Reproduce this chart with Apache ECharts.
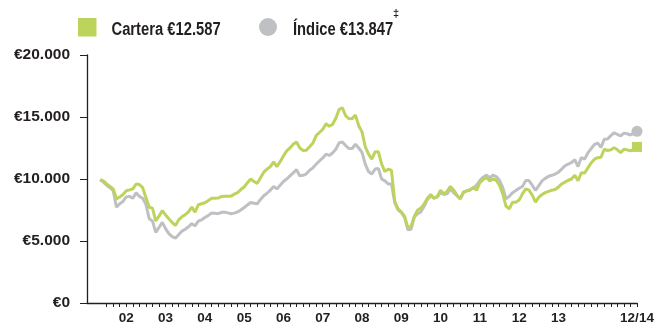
<!DOCTYPE html>
<html>
<head>
<meta charset="utf-8">
<script src="https://cdn.jsdelivr.net/npm/echarts@6/dist/echarts.min.js"></script>
<style>
  html, body { margin: 0; padding: 0; background: #ffffff; }
  #chart { width: 657px; height: 325px; }
</style>
</head>
<body>
<div id="chart"></div>
<script>
// Month-end values of a €10.000 investment, from April 2001 to December 2014.
// x positions are months counted from January 2001 (12 = start of 2002).
const firstMonth = 4;

const carteraValues = [
  9940, 9850, 9600, 9400, 9200, 8400, 8550, 8750, 9050, 9120, 9200, 9600,
  9560, 9300, 8500, 7720, 7650, 6620, 7000, 7450, 7100, 6800, 6500, 6250,
  6700, 6950, 7120, 7350, 7730, 7330, 7920, 8000, 8080, 8250, 8440, 8450,
  8460, 8580, 8610, 8600, 8620, 8780, 8900, 9150, 9350, 9700, 10000, 9800,
  9650, 10100, 10550, 10800, 11000, 11380, 11000, 11400, 11850, 12270, 12500, 12800,
  12990, 12500, 12300, 12320, 12600, 12900, 13500, 13750, 14000, 14450, 14250, 14400,
  14900, 15600, 15750, 15100, 14860, 14870, 15150, 14300, 13800, 12600, 12000, 11600,
  12190, 12190, 11200, 10600, 10800, 10700, 8200, 7600, 7350, 7000, 6100, 6200,
  7000, 7500, 7650, 8000, 8450, 8750, 8450, 8600, 9100, 8800, 9000, 9400,
  9100, 8700, 8400, 8900, 9050, 9150, 9300, 9100, 9700, 9950, 10130, 9850,
  10000, 9900, 9500, 8800, 7800, 7600, 8130, 8130, 8300, 8800, 9200, 9100,
  8700, 8130, 8530, 8750, 8900, 9000, 9100, 9150, 9350, 9600, 9750, 9900,
  10000, 10300, 9870, 10500, 10480, 10900, 11300, 11600, 11720, 11750, 12400, 12300,
  12350, 12530, 12350, 12130, 12400, 12350, 12270, 12400, 12587
];

const indiceValues = [
  9940, 9750, 9500, 9300, 9070, 7730, 8000, 8190, 8550, 8600, 8450, 8880,
  8600, 8450, 7950, 6800, 6620, 5700, 6100, 6500, 6000, 5600, 5350, 5230,
  5500, 5800, 5950, 6150, 6400, 6220, 6600, 6700, 6900, 7050, 7250, 7230,
  7200, 7300, 7330, 7270, 7200, 7250, 7350, 7500, 7700, 7900, 8100, 8050,
  8000, 8350, 8650, 8850, 9100, 9400, 9200, 9500, 9800, 10000, 10250, 10500,
  10750, 10250, 10300, 10420, 10700, 10900, 11200, 11450, 11700, 12000, 11900, 12100,
  12400, 12900, 12990, 12700, 12460, 12460, 12800, 12500, 12150, 11200, 10600, 10400,
  10800, 10850, 10000, 9850, 9600, 9600, 8100, 7500, 7300, 6900, 5900, 5950,
  6950, 7200, 7350, 7800, 8350, 8650, 8450, 8550, 8900, 8750, 8800, 9200,
  8900, 8650, 8400, 8950, 9050, 9100, 9300, 9500, 9870, 10150, 10320, 10100,
  10320, 10200, 9900, 9300, 8400, 8600, 8900, 9070, 9250, 9400, 9870, 9870,
  9500, 9070, 9470, 9850, 10050, 10220, 10300, 10400, 10550, 10800, 11070, 11200,
  11330, 11550, 11010, 11730, 11600, 12100, 12450, 12800, 12900, 12550, 13200, 13220,
  13500, 13730, 13600, 13470, 13700, 13650, 13550, 13700, 13847
];

const seriesNames = ['Cartera', 'Índice'];
const finalLabels = ['€12.587', '€13.847'];
const indexNote = '‡';

// Year labels sit at the start of each year; the last one marks December 2014.
const xLabelMonths = [12, 24, 36, 48, 60, 72, 84, 96, 108, 120, 132, 144, 168];
const xLabelTexts = ['02', '03', '04', '05', '06', '07', '08', '09', '10', '11', '12', '13', '12/14'];

const yTickValues = [0, 5000, 10000, 15000, 20000];
const yTickLabels = ['€0', '€5.000', '€10.000', '€15.000', '€20.000'];

// Tick marks every two months along the time axis.
const xTickMonths = [];
for (let m = 6; m <= 168; m += 2) xTickMonths.push(m);

const GREEN = '#bcd35c';
const GREY = '#bfc0c4';
const INK = '#231f20';
const AXISFONT = "'Liberation Sans', Arial, sans-serif";
// Condensed bold key text: Liberation Sans squeezed horizontally.
const KEYFONT = "bold 18px 'Liberation Sans', Arial, sans-serif";
const SQUEEZE = 0.82;

function toPoints(values, endSymbol) {
  return values.map((v, i) => {
    const p = { value: [firstMonth + i, v] };
    if (i === values.length - 1) {
      p.symbol = endSymbol;
      p.symbolSize = endSymbol === 'rect' ? 10 : 11;
    }
    return p;
  });
}

const chart = echarts.init(document.getElementById('chart'), null, { renderer: 'canvas' });

chart.setOption({
  animation: false,
  backgroundColor: '#ffffff',
  grid: { left: 87, right: 20, top: 55, bottom: 20, containLabel: false },
  graphic: [
    { type: 'rect', shape: { x: 78, y: 18, width: 18.5, height: 18.5 }, style: { fill: GREEN } },
    {
      type: 'text', x: 111.5, y: 21.5, scaleX: SQUEEZE,
      style: { x: 0, y: 0, text: seriesNames[0] + ' ' + finalLabels[0], font: KEYFONT, fill: INK, verticalAlign: 'top' }
    },
    { type: 'circle', shape: { cx: 268, cy: 27, r: 9 }, style: { fill: GREY } },
    {
      type: 'text', x: 293, y: 21.5, scaleX: SQUEEZE,
      style: { x: 0, y: 0, text: seriesNames[1] + ' ' + finalLabels[1], font: KEYFONT, fill: INK, verticalAlign: 'top' }
    },
    {
      type: 'text', x: 393, y: 8,
      style: { x: 0, y: 0, text: indexNote, font: "bold 11px 'Liberation Sans', Arial, sans-serif", fill: INK, verticalAlign: 'top' }
    }
  ],
  xAxis: {
    type: 'value',
    min: 0,
    max: 168,
    splitLine: { show: false },
    axisLine: { show: true, onZero: false, lineStyle: { color: INK, width: 1.3 } },
    axisTick: {
      show: true,
      customValues: xTickMonths,
      length: 4,
      lineStyle: { color: INK, width: 1 }
    },
    axisLabel: {
      customValues: xLabelMonths,
      margin: 8,
      color: INK,
      fontFamily: AXISFONT,
      fontWeight: 'bold',
      fontSize: 13.5,
      formatter: function (v) {
        const i = xLabelMonths.indexOf(v);
        return i >= 0 ? xLabelTexts[i] : '';
      }
    }
  },
  yAxis: {
    type: 'value',
    min: 0,
    max: 20000,
    interval: 5000,
    splitLine: { show: false },
    axisLine: { show: true, lineStyle: { color: INK, width: 1.3 } },
    axisTick: { show: true, length: 7, lineStyle: { color: INK, width: 1 } },
    axisLabel: {
      margin: 17,
      color: INK,
      fontFamily: AXISFONT,
      fontWeight: 'bold',
      fontSize: 15.5,
      formatter: function (v) {
        const i = yTickValues.indexOf(v);
        return i >= 0 ? yTickLabels[i] : '';
      }
    }
  },
  series: [
    {
      name: seriesNames[1],
      type: 'line',
      data: toPoints(indiceValues, 'circle'),
      symbol: 'none',
      showSymbol: true,
      lineStyle: { color: GREY, width: 3 },
      itemStyle: { color: GREY },
      emphasis: { disabled: true },
      z: 2
    },
    {
      name: seriesNames[0],
      type: 'line',
      data: toPoints(carteraValues, 'rect'),
      symbol: 'none',
      showSymbol: true,
      lineStyle: { color: GREEN, width: 3 },
      itemStyle: { color: GREEN },
      emphasis: { disabled: true },
      z: 3
    }
  ]
});
</script>
</body>
</html>
